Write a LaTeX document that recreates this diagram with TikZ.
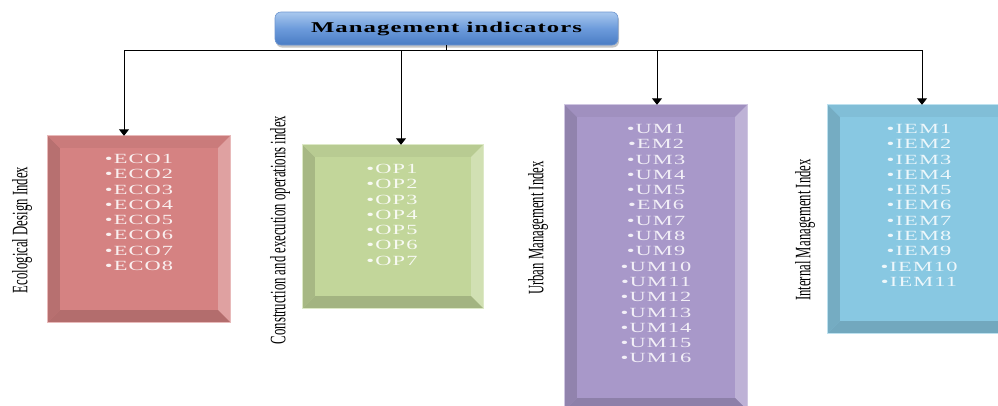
\documentclass[tikz,border=0pt]{standalone}
\usepackage{fontspec}
\setmainfont{Liberation Serif}
\newfontfamily\listfont[FakeStretch=1.6,LetterSpace=8]{Liberation Serif}
\newfontfamily\labfont[FakeStretch=0.58]{Liberation Serif}
\newfontfamily\titlefont[FakeStretch=1.65,LetterSpace=7]{Liberation Serif}
\usetikzlibrary{arrows.meta,shadows,calc}
\definecolor{ecoc}{HTML}{D58282}
\definecolor{opc}{HTML}{C2D69A}
\definecolor{umc}{HTML}{A898C9}
\definecolor{iemc}{HTML}{88C8E2}
\definecolor{titletop}{HTML}{A9C8EE}
\definecolor{titlemid}{HTML}{6C9BDB}
\definecolor{titlebot}{HTML}{4A7CC4}
\newcommand\bevel[2]{%
  \fill[#2] (#1.north west) rectangle (#1.south east);
  \fill[#2!86!black] (#1.north west) -- ($(#1.north west)+(12,12)$) -- ($(#1.south west)+(12,-12)$) -- (#1.south west) -- cycle;
  \fill[#2!95!black] (#1.north west) -- (#1.north east) -- ($(#1.north east)+(-12,12)$) -- ($(#1.north west)+(12,12)$) -- cycle;
  \fill[#2!75!white] (#1.north east) -- (#1.south east) -- ($(#1.south east)+(-12,-12)$) -- ($(#1.north east)+(-12,12)$) -- cycle;
  \fill[#2!84!black] (#1.south west) -- (#1.south east) -- ($(#1.south east)+(-12,-12)$) -- ($(#1.south west)+(12,-12)$) -- cycle;
  \draw[#2!55!white, line width=1.2pt] (#1.north west) rectangle (#1.south east);
}
\tikzset{
  listbox/.style={inner sep=0pt, draw=none},
  listtext/.style={inner sep=0pt, align=center, anchor=north,
    font=\listfont\fontsize{14}{15.3}\selectfont},
  sidelabel/.style={rotate=90, inner sep=0pt,
    font=\labfont\fontsize{22}{22}\selectfont},
  conn/.style={draw=black, line width=1pt},
  arr/.style={conn, -{Triangle[length=6.5pt,width=10pt]}},
  titlebox/.style={rounded corners=6pt, minimum width=343pt, minimum height=33pt,
    top color=titletop, bottom color=titlebot, middle color=titlemid,
    draw=titlebot!80!white, line width=0.6pt,
    drop shadow={shadow xshift=1pt, shadow yshift=-2.5pt, opacity=0.45},
    font=\titlefont\bfseries\fontsize{15}{15}\selectfont}
}
\begin{document}
\begin{tikzpicture}[x=1pt,y=-1pt]
\useasboundingbox (0,0) rectangle (998,405);
\clip (0,0) rectangle (998,405);
\fill[white] (0,0) rectangle (998,405);

% title
\node[titlebox] (title) at (446.5,28.5) {Management indicators};

% boxes
\node[listbox, minimum width=182pt, minimum height=186pt] (eco) at (139,229) {};
\bevel{eco}{ecoc}
\node[listbox, minimum width=180pt, minimum height=163pt] (op) at (393,226.5) {};
\bevel{op}{opc}
\node[listbox, minimum width=182pt, minimum height=305pt] (um) at (656,257.5) {};
\bevel{um}{umc}
\node[listbox, minimum width=182pt, minimum height=228pt] (iem) at (919,219) {};
\bevel{iem}{iemc}

% list texts
\node[listtext, text=white!88!ecoc] (ecol) at (139,154) {•ECO1\\•ECO2\\•ECO3\\•ECO4\\•ECO5\\•ECO6\\•ECO7\\•ECO8};
\node[listtext, text=white!88!opc] (opl) at (392,164) {•OP1\\•OP2\\•OP3\\•OP4\\•OP5\\•OP6\\•OP7};
\node[listtext, text=white!85!umc] (uml) at (656,124) {•UM1\\•EM2\\•UM3\\•UM4\\•UM5\\•EM6\\•UM7\\•UM8\\•UM9\\•UM10\\•UM11\\•UM12\\•UM13\\•UM14\\•UM15\\•UM16};
\node[listtext, text=white!85!iemc] (ieml) at (919,124) {•IEM1\\•IEM2\\•IEM3\\•IEM4\\•IEM5\\•IEM6\\•IEM7\\•IEM8\\•IEM9\\•IEM10\\•IEM11};

% side labels
\node[sidelabel] (ecot) at (22,230) {Ecological Design Index};
\node[sidelabel] (opt) at (280,230) {Construction and execution operations index};
\node[sidelabel] (umt) at (538,228) {Urban Management Index};
\node[sidelabel] (iemt) at (805,230) {Internal Management Index};

% connectors
\coordinate (b1) at (124,50);
\coordinate (b2) at (401,50);
\coordinate (b3) at (657,50);
\coordinate (b4) at (922,50);
\draw[conn] (title.south) -- (title.south |- b1);
\draw[conn] (b1) -- (b4);
\draw[arr] (b1) -- (b1 |- eco.north);
\draw[arr] (b2) -- (b2 |- op.north);
\draw[arr] (b3) -- (b3 |- um.north);
\draw[arr] (b4) -- (b4 |- iem.north);
\end{tikzpicture}
\end{document}
